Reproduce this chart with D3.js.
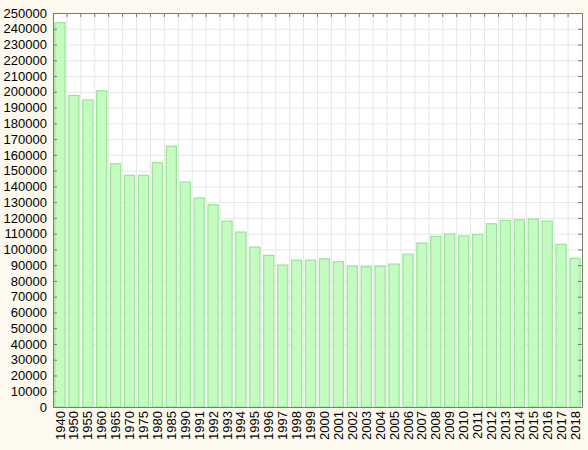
<!DOCTYPE html>
<html>
<head>
<meta charset="utf-8">
<script src="https://cdn.jsdelivr.net/npm/d3@7"></script>
<style>
  body { margin: 0; background: #fdf9ee; }
  svg { display: block; }
</style>
</head>
<body>
<div id="chart"></div>
<script>
// years (categories) and values
var years = ["1940", "1950", "1955", "1960", "1965", "1970", "1975", "1980", "1985", "1990",
    "1991", "1992", "1993", "1994", "1995", "1996", "1997", "1998", "1999", "2000",
    "2001", "2002", "2003", "2004", "2005", "2006", "2007", "2008", "2009", "2010",
    "2011", "2012", "2013", "2014", "2015", "2016", "2017", "2018"];

var values = [243800, 197700, 194800, 200600, 154300, 147000, 147000, 155000, 165500, 142700,
    132600, 128300, 118000, 111000, 101500, 96200, 90100, 93200, 93200, 94000,
    92200, 89300, 89000, 89400, 90700, 97000, 104000, 108300, 109700, 108500,
    109500, 116300, 118400, 118800, 119200, 118000, 103200, 94300];

var yTicks = d3.range(0, 250001, 10000);

var width = 588, height = 450;
var margin = { top: 13, right: 6, bottom: 43, left: 53 };

var svg = d3.select("#chart").append("svg")
    .attr("width", width)
    .attr("height", height);

var x = d3.scaleBand()
    .domain(years)
    .range([margin.left, width - margin.right]);

var y = d3.scaleLinear()
    .domain([0, 250000])
    .range([height - margin.bottom, margin.top]);

// plot background
svg.append("rect")
    .attr("x", margin.left)
    .attr("y", margin.top)
    .attr("width", width - margin.left - margin.right)
    .attr("height", height - margin.top - margin.bottom)
    .style("fill", "#ffffff");

// grid
var grid = svg.append("g").attr("class", "grid");
grid.selectAll("line.h")
    .data(yTicks)
    .enter().append("line")
    .attr("class", "h")
    .attr("x1", margin.left)
    .attr("x2", width - margin.right)
    .attr("y1", function (d) { return y(d) + 0.5; })
    .attr("y2", function (d) { return y(d) + 0.5; })
    .style("stroke", "#e6e6e6")
    .style("stroke-width", 1);

grid.selectAll("line.v")
    .data(years.slice(1))
    .enter().append("line")
    .attr("class", "v")
    .attr("x1", function (d) { return x(d); })
    .attr("x2", function (d) { return x(d); })
    .attr("y1", margin.top)
    .attr("y2", height - margin.bottom)
    .style("stroke", "#e6e6e6")
    .style("stroke-width", 1);

// bars
var pad = 0.1 * x.bandwidth();
svg.selectAll("rect.bar")
    .data(values)
    .enter().append("rect")
    .attr("class", "bar")
    .attr("x", function (d, i) { return x(years[i]) + pad + 0.5; })
    .attr("y", function (d) { return y(d); })
    .attr("width", x.bandwidth() - 2 * pad - 1)
    .attr("height", function (d) { return y(0) - y(d); })
    .style("fill", "#c4fbc0")
    .style("stroke", "#98e596")
    .style("stroke-width", 1.2);

// axes
var axisColor = "#7a7a7a";
var fontStyle = function (sel) {
    sel.selectAll("text")
        .style("font-family", "'Liberation Sans', Arial, sans-serif")
        .style("font-size", "13px")
        .style("fill", "#000");
    sel.selectAll("path, line").style("stroke", axisColor);
};

var yAxis = svg.append("g")
    .attr("transform", "translate(" + margin.left + ",0)")
    .call(d3.axisLeft(y).tickValues(yTicks).tickFormat(d3.format("d")).tickSizeInner(-4).tickSizeOuter(0).tickPadding(6));
fontStyle(yAxis);

var yAxisR = svg.append("g")
    .attr("transform", "translate(" + (width - margin.right) + ",0)")
    .call(d3.axisRight(y).tickValues(yTicks).tickFormat("").tickSizeInner(-4).tickSizeOuter(0));
fontStyle(yAxisR);

var xAxisTop = svg.append("g")
    .attr("transform", "translate(0," + margin.top + ")")
    .call(d3.axisTop(x).tickFormat("").tickSizeInner(0).tickSizeOuter(0));
fontStyle(xAxisTop);
xAxisTop.selectAll(".bound")
    .data(years.slice(1))
    .enter().append("line")
    .attr("x1", function (d) { return x(d); })
    .attr("x2", function (d) { return x(d); })
    .attr("y1", 0)
    .attr("y2", 4)
    .style("stroke", axisColor);

var xAxis = svg.append("g")
    .attr("transform", "translate(0," + (height - margin.bottom) + ")")
    .call(d3.axisBottom(x).tickSizeInner(0).tickSizeOuter(0).tickPadding(4));
fontStyle(xAxis);
xAxis.selectAll("text")
    .attr("transform", "rotate(-90)")
    .attr("x", -4)
    .attr("y", 0)
    .attr("dy", "0.35em")
    .style("text-anchor", "end");
</script>
</body>
</html>
